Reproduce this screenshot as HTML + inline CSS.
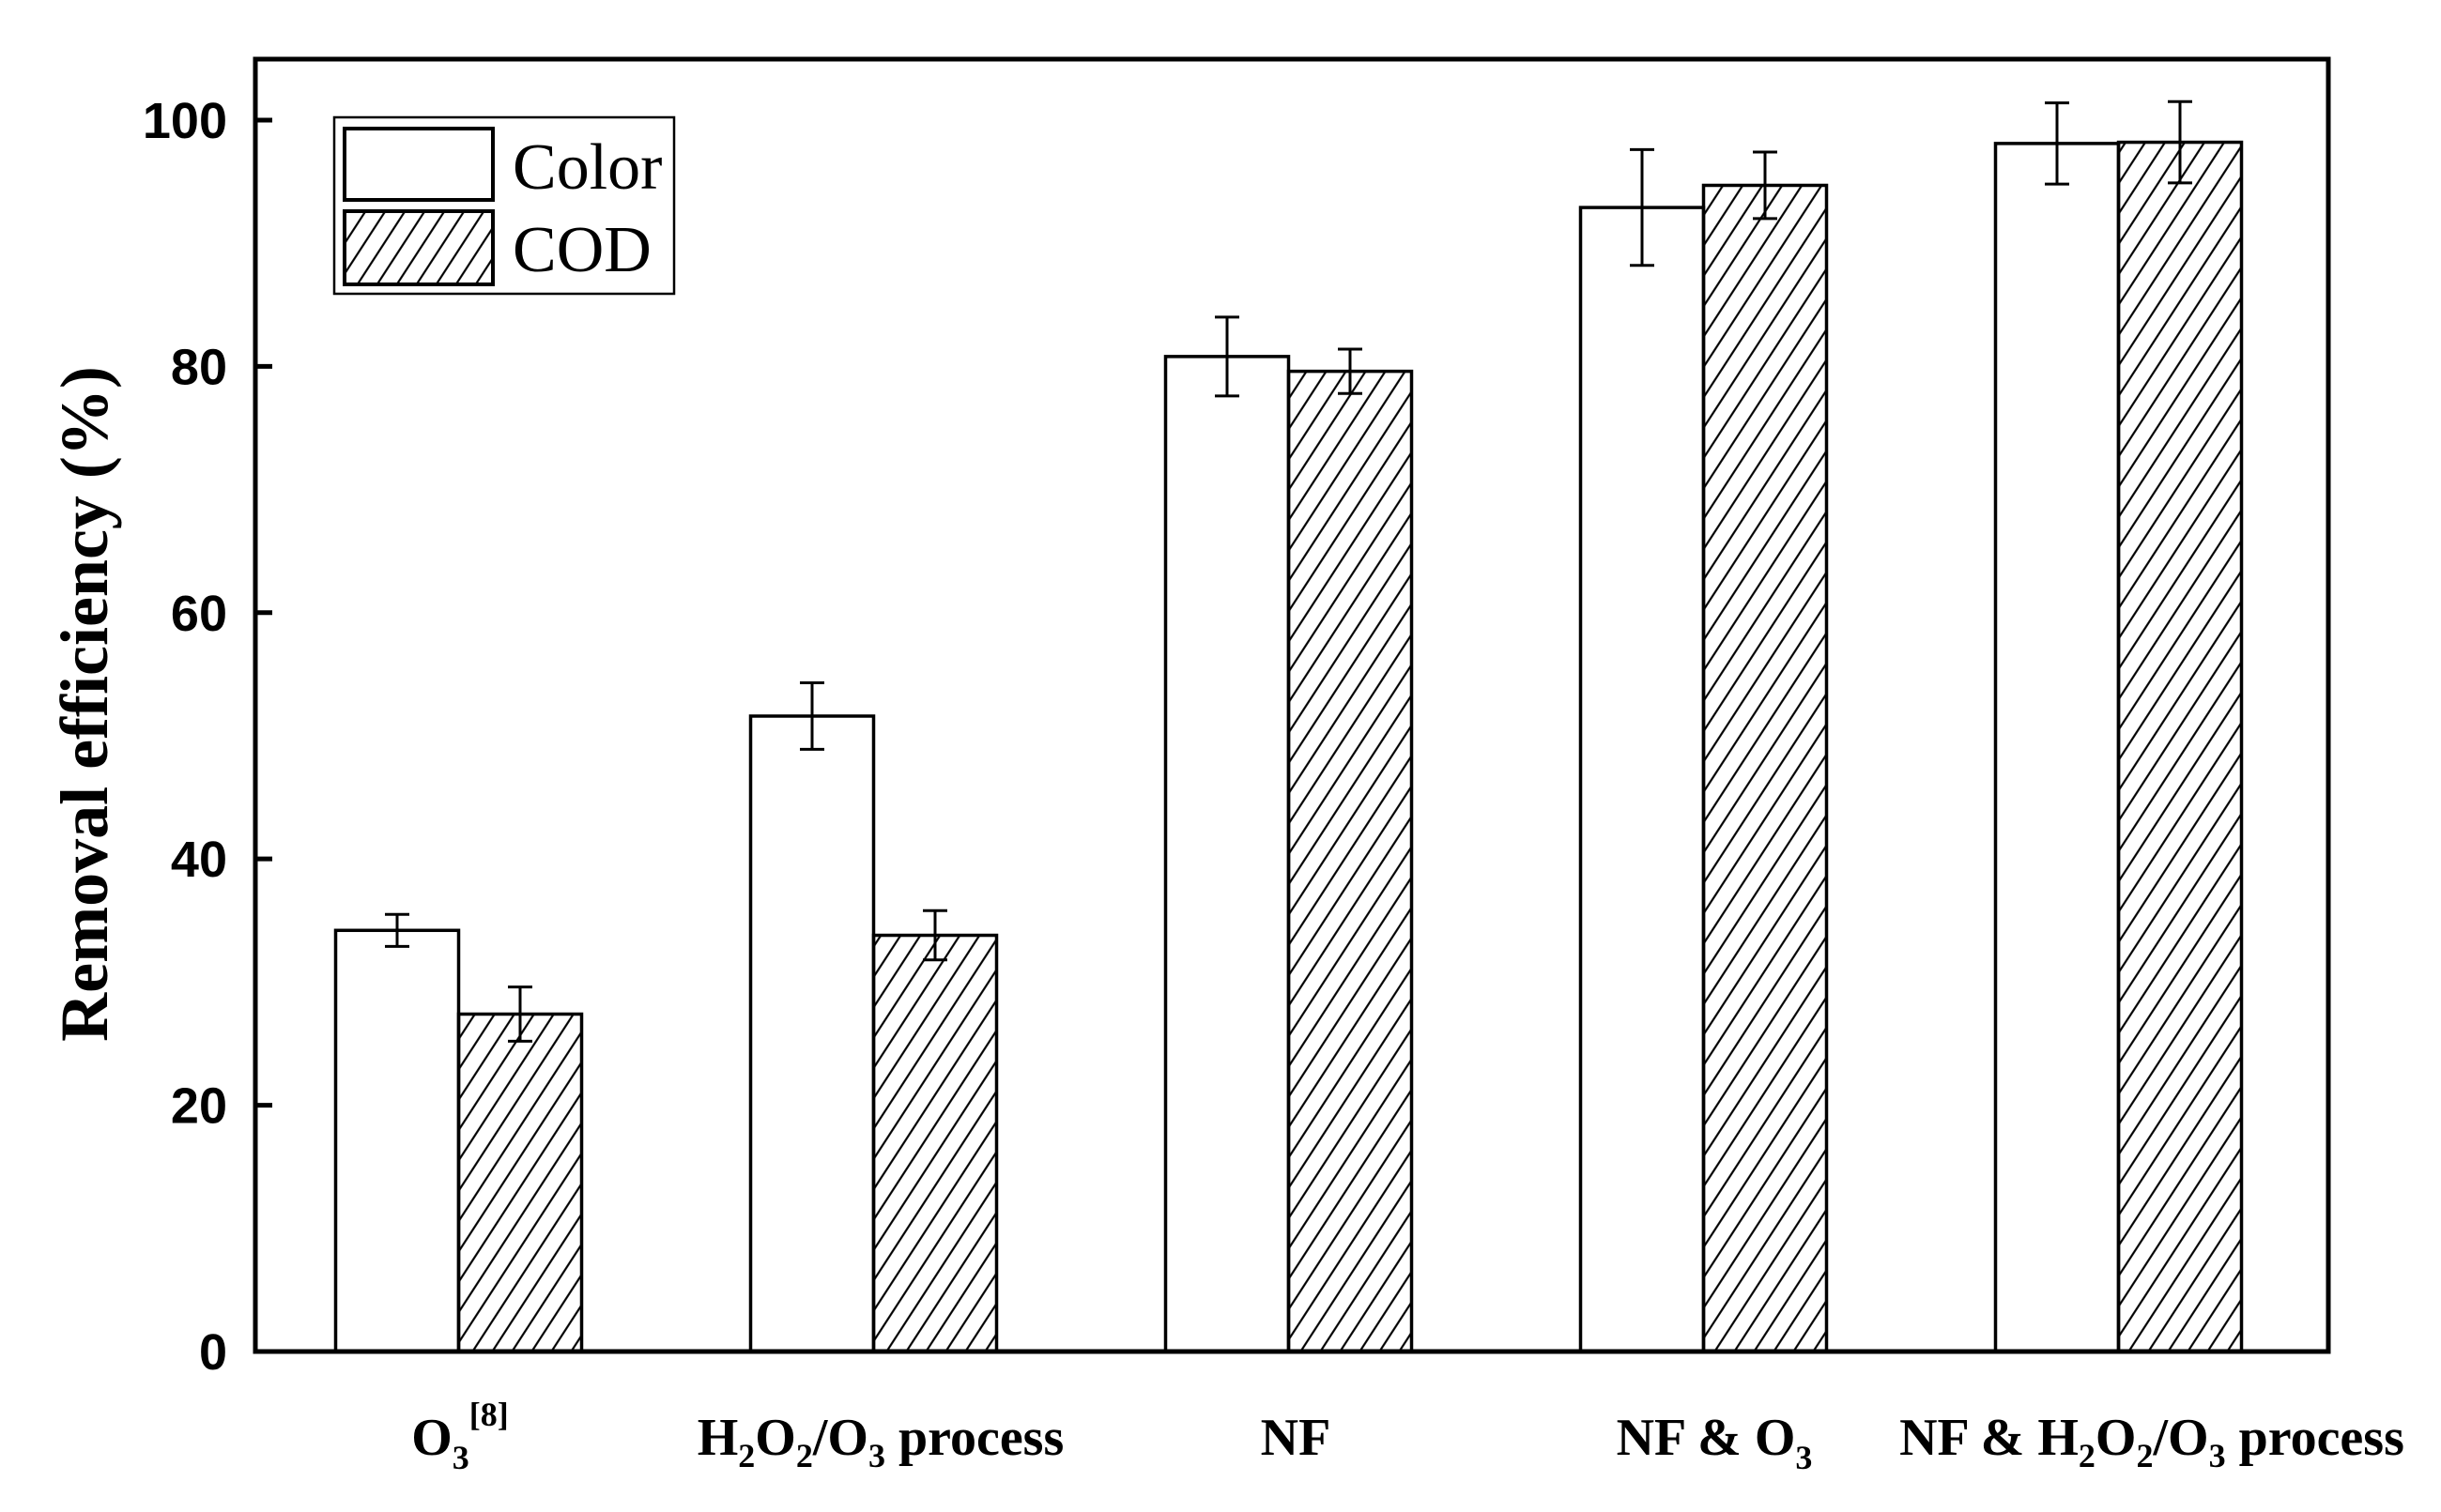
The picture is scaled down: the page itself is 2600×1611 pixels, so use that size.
<!DOCTYPE html>
<html><head><meta charset="utf-8"><style>
html,body{margin:0;padding:0;background:#fff;}
svg{display:block;}
</style></head><body>
<svg id="chart" width="2600" height="1611" viewBox="0 0 2600 1611" xmlns="http://www.w3.org/2000/svg">
<defs>
<pattern id="hatch" patternUnits="userSpaceOnUse" width="21" height="32" patternTransform="skewX(-33)">
<line x1="10.5" y1="0" x2="10.5" y2="32" stroke="#000" stroke-width="2.6"/>
</pattern>
</defs>
<g id="plot"></g>
</svg>
<script>
const categories = ["O3[8]", "H2O2/O3 process", "NF", "NF & O3", "NF & H2O2/O3 process"];
const colorValues = [34.2, 51.6, 80.8, 92.9, 98.1];
const colorErrors = [1.3, 2.7, 3.2, 4.7, 3.3];
const codValues = [27.4, 33.8, 79.6, 94.7, 98.2];
const codErrors = [2.2, 2.0, 1.8, 2.7, 3.3];
const yTicks = [0, 20, 40, 60, 80, 100];

const NS = "http://www.w3.org/2000/svg";
const svg = document.getElementById('plot');
const L = 272, R = 2480, T = 63, B = 1440;
const yMin = 0, yMax = 104.95;
function y(v){ return B - (v - yMin) / (yMax - yMin) * (B - T); }
function xc(i){ return 488.5 + 442 * i; }
const BW = 131;
function mk(tag, attrs, parent){
  const e = document.createElementNS(NS, tag);
  for (const k in attrs) e.setAttribute(k, attrs[k]);
  (parent || svg).appendChild(e);
  return e;
}

categories.forEach((c, i) => {
  const cx = xc(i);
  const b1 = mk('rect', {x: cx - BW, y: y(colorValues[i]), width: BW, height: B - y(colorValues[i]), fill: '#fff', stroke: '#000', 'stroke-width': 3.5});
  
  
  const b2 = mk('rect', {x: cx, y: y(codValues[i]), width: BW, height: B - y(codValues[i]), fill: 'url(#hatch)', stroke: '#000', 'stroke-width': 3.5});
  
  
});
function err(cx, v, e, name){
  const g = mk('g', {stroke: '#000', 'stroke-width': 3});
  
  
  mk('line', {x1: cx, x2: cx, y1: y(v + e), y2: y(v - e)}, g);
  mk('line', {x1: cx - 13, x2: cx + 13, y1: y(v + e), y2: y(v + e)}, g);
  mk('line', {x1: cx - 13, x2: cx + 13, y1: y(v - e), y2: y(v - e)}, g);
}
categories.forEach((c, i) => {
  err(xc(i) - BW / 2, colorValues[i], colorErrors[i], 'error-bar-color-' + i);
  err(xc(i) + BW / 2, codValues[i], codErrors[i], 'error-bar-cod-' + i);
});

const fr = mk('rect', {x: L, y: T, width: R - L, height: B - T, fill: 'none', stroke: '#000', 'stroke-width': 5});



yTicks.forEach(t => {
  const tk = mk('line', {x1: L, x2: L + 18, y1: y(t), y2: y(t), stroke: '#000', 'stroke-width': 5});
  
  
  const tl = mk('text', {x: 242, y: y(t) + 19, 'text-anchor': 'end', 'font-family': '"Liberation Sans", sans-serif', 'font-weight': 'bold', 'font-size': 54});
  tl.textContent = t;
  
  
});
</script>
<svg style="position:absolute;left:0;top:0" width="2600" height="1611" xmlns="http://www.w3.org/2000/svg">
<text transform="translate(114,750) rotate(-90)" text-anchor="middle" font-family="'Liberation Serif', serif" font-weight="bold" font-size="72">Removal efficiency (%)</text>
<g>
<rect x="356" y="125" width="362" height="188" fill="#fff" stroke="#000" stroke-width="2.5"/>
<rect x="367" y="137" width="158" height="76" fill="#fff" stroke="#000" stroke-width="4"/>
<rect x="367" y="225" width="158" height="78" fill="url(#hatch)" stroke="#000" stroke-width="4"/>
<text x="546" y="201" font-family="'Liberation Serif', serif" font-size="70">Color</text>
<text x="546" y="289" font-family="'Liberation Serif', serif" font-size="70">COD</text>
</g>
<g font-family="'Liberation Serif', serif" font-weight="bold" font-size="56" text-anchor="middle">
<text x="490" y="1550">O<tspan font-size="36" dy="15">3</tspan><tspan font-size="36" dy="-46">[8]</tspan></text>
<text x="938" y="1550">H<tspan font-size="36" dy="13">2</tspan><tspan dy="-13">O</tspan><tspan font-size="36" dy="13">2</tspan><tspan dy="-13">/O</tspan><tspan font-size="36" dy="13">3</tspan><tspan dy="-13"> process</tspan></text>
<text x="1380" y="1550">NF</text>
<text x="1826" y="1550">NF &amp; O<tspan font-size="36" dy="15">3</tspan></text>
<text x="2292" y="1550">NF &amp; H<tspan font-size="36" dy="13">2</tspan><tspan dy="-13">O</tspan><tspan font-size="36" dy="13">2</tspan><tspan dy="-13">/O</tspan><tspan font-size="36" dy="13">3</tspan><tspan dy="-13"> process</tspan></text>
</g>
</svg>
</body></html>
